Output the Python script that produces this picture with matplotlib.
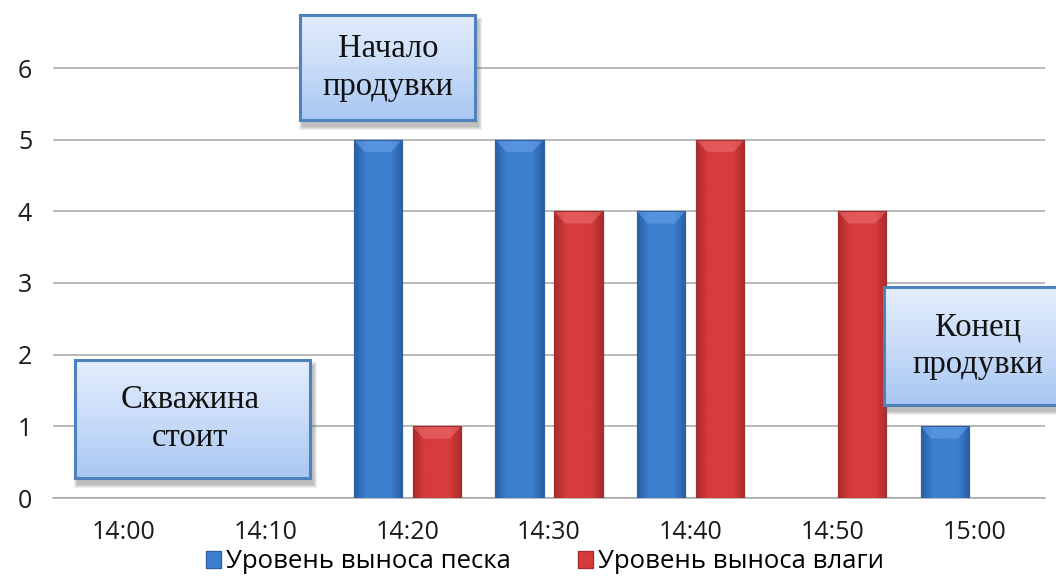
import numpy as np
import matplotlib.pyplot as plt
from matplotlib.patches import Rectangle, Polygon
from matplotlib.colors import LinearSegmentedColormap

# Data
times = ["14:00", "14:10", "14:20", "14:30", "14:40", "14:50", "15:00"]
sand = [0, 0, 5, 5, 4, 0, 1]
moisture = [0, 0, 1, 4, 5, 4, 0]
series_names = ["Уровень выноса песка", "Уровень выноса влаги"]
notes = ["Начало\nпродувки", "Скважина\nстоит", "Конец\nпродувки"]

W, H = 1056, 576
fig = plt.figure(figsize=(W / 100, H / 100), dpi=100)
fig.patch.set_facecolor("white")

ax = fig.add_axes([53 / W, 78 / H, 992 / W, 494.5 / H])
tick_font = "Open Sans"
note_font = "Liberation Serif"

x = np.arange(len(times))
bw = 0.34
off = 0.208

blue = dict(dark="#285fa6", mid="#3e80d0", light="#6aa4ec", edge="#2f62a3")
red = dict(dark="#ab2b2b", mid="#d73c3c", light="#ee7070", edge="#a32c2c")


def draw_series(xpos, vals, pal):
    bars = ax.bar(xpos, vals, width=bw, color=pal["mid"], edgecolor=pal["edge"],
                  linewidth=0.8, zorder=3)
    cmap = LinearSegmentedColormap.from_list(
        "g", [pal["dark"], pal["mid"], pal["mid"], pal["mid"], pal["dark"]])
    grad = np.linspace(0, 1, 64).reshape(1, -1)
    for b in bars:
        h = b.get_height()
        if h <= 0:
            b.set_visible(False)
            continue
        x0, w = b.get_x(), b.get_width()
        im = ax.imshow(grad, cmap=cmap, extent=[x0, x0 + w, 0, h],
                       aspect="auto", zorder=3.1, interpolation="bicubic")
        im.set_clip_path(b)
        # bevelled top
        bh, dx = 0.17, 0.075
        ax.add_patch(Polygon([(x0, h), (x0 + w, h), (x0 + w - dx, h - bh),
                              (x0 + dx, h - bh)], closed=True,
                             facecolor=pal["light"], edgecolor="none",
                             alpha=0.55, zorder=3.2))
        ax.add_patch(Rectangle((x0, 0), w, h, facecolor="none",
                               edgecolor=pal["edge"], linewidth=0.8, zorder=3.3))
    return bars


draw_series(x - off, sand, blue)
draw_series(x + off, moisture, red)

ax.set_xlim(-0.5, 6.5)
ax.set_ylim(0, 6.9)
ax.set_yticks(range(0, 7))
ax.set_xticks(x)
ax.set_xticklabels(times)
ax.yaxis.grid(True, color="#a6a6a6", linewidth=1.1, zorder=0)
ax.set_axisbelow(True)
for s in ["top", "right", "left"]:
    ax.spines[s].set_visible(False)
ax.spines["bottom"].set_color("#a6a6a6")
ax.spines["bottom"].set_linewidth(1.1)
ax.tick_params(axis="both", length=0, labelsize=18, labelcolor="#1a1a1a")
ax.tick_params(axis="y", pad=15)
ax.tick_params(axis="x", pad=16)
for lbl in ax.get_xticklabels() + ax.get_yticklabels():
    lbl.set_fontfamily(tick_font)

# Legend
handles = [Rectangle((0, 0), 1, 1, facecolor=blue["mid"], edgecolor=blue["edge"]),
           Rectangle((0, 0), 1, 1, facecolor=red["mid"], edgecolor=red["edge"])]
fig.legend(handles, series_names, loc="center", bbox_to_anchor=(545 / W, 1 - 562 / H),
           ncol=2, frameon=False, handlelength=0.6, handleheight=0.6,
           handletextpad=0.2, columnspacing=2.6,
           prop=dict(family=tick_font, size=18.5), borderpad=0)

# Note boxes (pixel boxes: left, top, right, bottom)
boxes = [(300, 15, 475, 120), (75, 360, 310, 478), (884, 287, 1072, 405)]
text_cx = [388, 190, 978]
box_cmap = LinearSegmentedColormap.from_list("box", ["#e3edfc", "#c9dcf8", "#a8c7f3"])
for text, (l, t, r, b), tx in zip(notes, boxes, text_cx):
    # soft shadow
    for i, a in enumerate([0.10, 0.10, 0.12, 0.15]):
        grow = 4 - i
        fig.add_artist(Rectangle(((l + 3 - grow) / W, 1 - (b + 6 + grow) / H),
                                 (r - l + 2 * grow) / W, (b - t + 2 * grow) / H,
                                 transform=fig.transFigure, facecolor="#606060",
                                 edgecolor="none", alpha=a, zorder=4))
    bax = fig.add_axes([l / W, 1 - b / H, (r - l) / W, (b - t) / H], zorder=5)
    bax.imshow(np.linspace(0, 1, 64).reshape(-1, 1), cmap=box_cmap,
               extent=[0, 1, 0, 1], aspect="auto", interpolation="bicubic")
    bax.set_xlim(0, 1)
    bax.set_ylim(0, 1)
    bax.set_xticks([])
    bax.set_yticks([])
    for s in bax.spines.values():
        s.set_color("#4f81bd")
        s.set_linewidth(2.2)
    bax.text((tx - l) / (r - l), 0.5, text, ha="center", va="center", fontsize=23.5,
             family=note_font, color="#111111", linespacing=1.32,
             transform=bax.transAxes)

fig.savefig("out.png", dpi=100)
